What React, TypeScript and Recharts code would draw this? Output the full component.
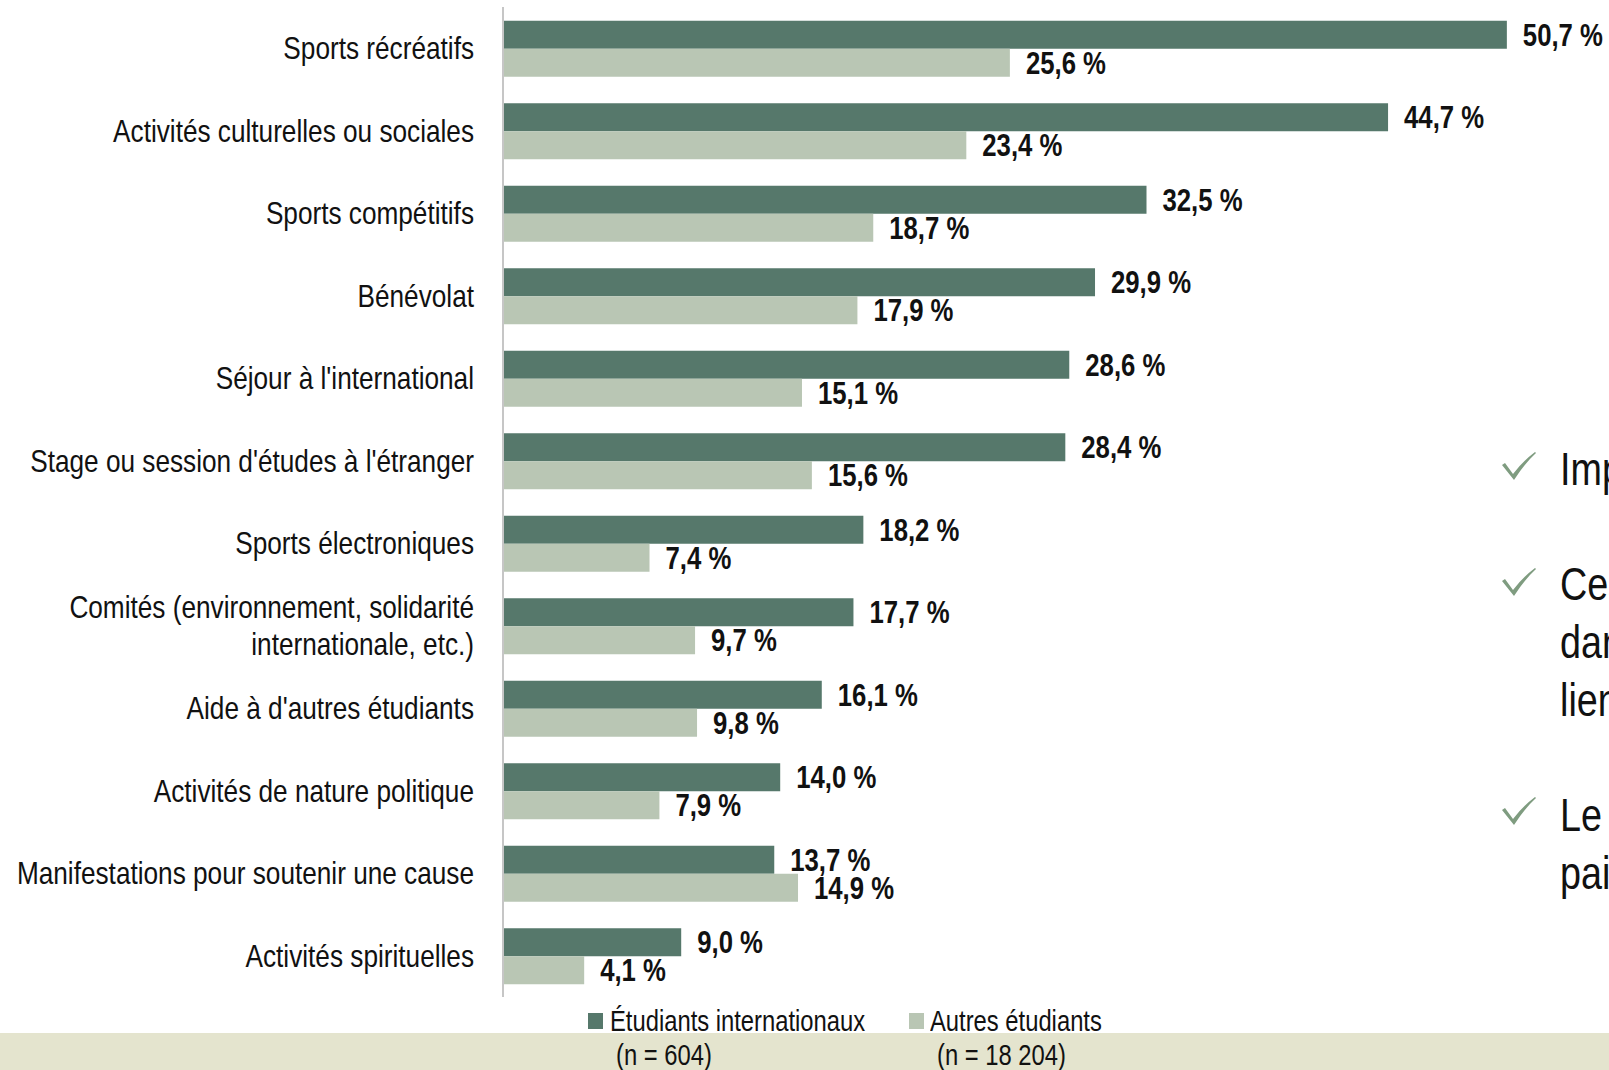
import React from 'react';
import { BarChart, Bar, XAxis, YAxis, LabelList } from 'recharts';

const categories = [
    'Sports récréatifs',
    'Activités culturelles ou sociales',
    'Sports compétitifs',
    'Bénévolat',
    "Séjour à l'international",
    "Stage ou session d'études à l'étranger",
    'Sports électroniques',
    'Comités (environnement, solidarité\ninternationale, etc.)',
    "Aide à d'autres étudiants",
    'Activités de nature politique',
    'Manifestations pour soutenir une cause',
    'Activités spirituelles',
];
const internationaux = [50.7, 44.7, 32.5, 29.9, 28.6, 28.4, 18.2, 17.7, 16.1, 14.0, 13.7, 9.0];
const autres = [25.6, 23.4, 18.7, 17.9, 15.1, 15.6, 7.4, 9.7, 9.8, 7.9, 14.9, 4.1];

const legendItems = ['Étudiants internationaux', 'Autres étudiants'];
const legendCounts = ['(n = 604)', '(n = 18 204)'];
const sideLines = ['Impact', 'Ces', 'dans', 'liens', 'Le', 'pairs'];

const DARK = '#56786b';
const LIGHT = '#b9c6b4';
const FONT = '"Liberation Sans", Arial, sans-serif';
const NARROW = 0.82;

const chartData = categories.map((name, i) => ({
    name,
    intl: internationaux[i],
    autres: autres[i],
}));

const fmt = (v: any) => `${Number(v).toFixed(1).replace('.', ',')} %`;

// no narrow font installed, so the text is squeezed horizontally
const CatTick = (props: any) => {
    const { y, payload } = props;
    const lines = String(payload.value).split('\n');
    const lh = 37;
    const start = y - ((lines.length - 1) * lh) / 2;
    return (
        <g>
            {lines.map((l, i) => (
                <text key={i} transform={`translate(474,${start + i * lh + 11}) scale(0.845,1)`}
                    textAnchor="end" fontFamily={FONT} fontSize={31} fill="#111">{l}</text>
            ))}
        </g>
    );
};

const ValueLabel = (props: any) => {
    const { x, y, width, height, value } = props;
    const tx = Number(x) + Number(width) + 16;
    const ty = Number(y) + Number(height) / 2 + 11;
    return (
        <text transform={`translate(${tx},${ty}) scale(0.83,1)`} fontFamily={FONT}
            fontSize={31} fontWeight={700} fill="#111">{fmt(value)}</text>
    );
};

const Check = ({ top }: { top: number }) => (
    <svg width={36} height={32} style={{ position: 'absolute', left: 1501, top }}>
        <path d="M1 15 L4 13 L12 24 Q22 11 34 2 L35 3 Q24 13 13 30 Z" fill="#7f9c80" />
    </svg>
);

const narrowDiv = (left: number, top: number, size: number, lh: number): React.CSSProperties => ({
    position: 'absolute', left, top, fontSize: size, lineHeight: `${lh}px`, color: '#111',
    whiteSpace: 'nowrap', transform: `scaleX(${NARROW})`, transformOrigin: '0 0',
});

export default function App() {
    return (
        <div style={{ position: 'absolute', left: 0, top: 0, width: 1609, height: 1070, overflow: 'hidden', background: '#fff', fontFamily: FONT }}>
            <div style={{ position: 'absolute', left: 0, top: 1033, width: 1609, height: 37, background: '#e4e4ce' }} />
            <div style={{ position: 'absolute', left: 0, top: 0 }}>
                <BarChart
                    width={1609}
                    height={1000}
                    data={chartData}
                    layout="vertical"
                    margin={{ top: 7, right: 17, bottom: 3, left: 0 }}
                    barCategoryGap="16.6%"
                    barGap={0}
                >
                    <XAxis type="number" domain={[0, 55]} hide />
                    <YAxis
                        type="category"
                        dataKey="name"
                        width={503}
                        interval={0}
                        tickLine={false}
                        axisLine={{ stroke: '#c6c6c6', strokeWidth: 2 }}
                        tick={<CatTick />}
                    />
                    <Bar dataKey="intl" fill={DARK} isAnimationActive={false}>
                        <LabelList dataKey="intl" content={<ValueLabel />} />
                    </Bar>
                    <Bar dataKey="autres" fill={LIGHT} isAnimationActive={false}>
                        <LabelList dataKey="autres" content={<ValueLabel />} />
                    </Bar>
                </BarChart>
            </div>

            <div style={{ position: 'absolute', left: 588, top: 1013, width: 15, height: 16, background: DARK }} />
            <div style={narrowDiv(610, 1004, 29, 34)}>{legendItems[0]}</div>
            <div style={narrowDiv(616, 1038, 29, 34)}>{legendCounts[0]}</div>
            <div style={{ position: 'absolute', left: 909, top: 1013, width: 15, height: 16, background: LIGHT }} />
            <div style={narrowDiv(930, 1004, 29, 34)}>{legendItems[1]}</div>
            <div style={narrowDiv(937, 1038, 29, 34)}>{legendCounts[1]}</div>

            <Check top={450} />
            <Check top={566} />
            <Check top={795} />
            {[485, 600, 658, 716, 831, 889].map((base, i) => (
                <div key={i} style={narrowDiv(1560, base - 44, 46, 56)}>{sideLines[i]}</div>
            ))}
        </div>
    );
}
